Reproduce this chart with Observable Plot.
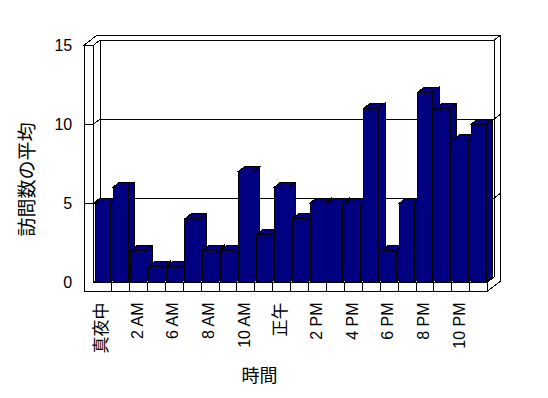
<!DOCTYPE html>
<html>
<head>
<meta charset="utf-8">
<script src="https://cdn.jsdelivr.net/npm/d3@7"></script>
<script src="https://cdn.jsdelivr.net/npm/@observablehq/plot@0.6"></script>
<style>
  html, body { margin: 0; padding: 0; background: #fff; }
  #chart svg { shape-rendering: crispEdges; }
</style>
</head>
<body>
<div id="chart"></div>
<script>
// ---- data ----
const hours = ["真夜中","1 AM","2 AM","3 AM","6 AM","7 AM","8 AM","9 AM","10 AM","11 AM","正午",
               "1 PM","2 PM","3 PM","4 PM","5 PM","6 PM","7 PM","8 PM","9 PM","10 PM","11 PM"];
const visits = [5,6,2,1,1,4,2,2,7,3,6,4,5,5,5,11,2,5,12,11,9,10];
const yTicks = [0,5,10,15];
const gridValues = [5,10];
const yTitle = "訪問数の平均";
const xTitle = "時間";

const bars = hours.map((h, i) => ({h, i, v: visits[i]}));
const xLabels = bars.filter(d => d.i % 2 === 0);
const n = hours.length;

// 3D depth (pixels)
const DX = 6.5, DY = -5, WALL = 9.5, FLOOR = 9;
const isCJK = s => /[\u3000-\u9fff]/.test(s);

function poly(g, pts, fill) {
  g.append("path")
    .attr("d", "M" + pts.map(p => p.join(",")).join("L") + "Z")
    .attr("fill", fill).attr("stroke", "black").attr("stroke-width", 1);
}
function seg(g, a, b) {
  g.append("path").attr("d", `M${a}L${b}`).attr("fill", "none")
    .attr("stroke", "black").attr("stroke-width", 1);
}

// back / side walls, floor
function boxMark(index, scales) {
  const X = scales.x, Y = scales.y;
  const x0 = X(0), x1 = X(n), y0 = Y(0), yT = Y(15);
  const g = d3.create("svg:g");
  poly(g, [[x0+DX, yT+DY],[x1+DX, yT+DY],[x1+DX, y0+DY],[x0+DX, y0+DY]], "white");
  for (const v of gridValues) seg(g, [x0+DX, Y(v)+DY], [x1+DX, Y(v)+DY]);
  poly(g, [[x0, y0],[x0+DX, y0+DY],[x1+DX, y0+DY],[x1, y0]], "white");
  poly(g, [[x0, yT],[x0+DX, yT+DY],[x0+DX, y0+DY],[x0, y0]], "white");
  for (const v of gridValues) seg(g, [x0, Y(v)], [x0+DX, Y(v)+DY]);
  poly(g, [[x0-WALL, yT],[x0-WALL+2*DX, yT+2*DY],[x1+2*DX, yT+2*DY],[x1+DX, yT+DY],[x0+DX, yT+DY],[x0, yT]], "white");
  poly(g, [[x1, y0],[x1+DX, y0+DY],[x1+DX, yT+DY],[x1+2*DX, yT+2*DY],[x1+2*DX, y0+FLOOR+2*DY],[x1, y0+FLOOR]], "white");
  for (const v of gridValues) seg(g, [x1+DX, Y(v)+DY], [x1+2*DX, Y(v)+2*DY]);
  poly(g, [[x0-WALL, yT],[x0, yT],[x0, y0],[x1, y0],[x1, y0+FLOOR],[x0-WALL, y0+FLOOR]], "white");
  for (const v of gridValues) seg(g, [x0-WALL, Y(v)], [x0, Y(v)]);
  for (let i = 1; i < n; i++) seg(g, [X(i), y0], [X(i), y0+FLOOR]);
  return g.node();
}

// bar sides and tops
function barDepthMark(index, scales) {
  const X = scales.x, Y = scales.y;
  const g = d3.create("svg:g");
  for (const d of bars) {
    const xl = X(d.i + 0.08), xr = X(d.i + 0.92), yt = Y(d.v), yb = Y(0);
    poly(g, [[xr, yb],[xr+DX, yb+DY],[xr+DX, yt+DY],[xr, yt]], "#000080");
    poly(g, [[xl, yt],[xl+DX, yt+DY],[xr+DX, yt+DY],[xr, yt]], "#000080");
  }
  return g.node();
}

const chart = Plot.plot({
  width: 548,
  height: 398,
  marginLeft: 93.7,
  marginRight: 60.3,
  marginTop: 45,
  marginBottom: 116,
  x: {domain: [0, n], axis: null},
  y: {domain: [0, 15], axis: null},
  style: {fontFamily: "'Liberation Sans', 'Noto Sans CJK JP', sans-serif", background: "white", overflow: "visible"},
  marks: [
    boxMark,
    barDepthMark,
    Plot.rectY(bars, {x1: d => d.i + 0.08, x2: d => d.i + 0.92, y1: 0, y2: "v", fill: "#000080", stroke: "black", strokeWidth: 1}),
    Plot.text(yTicks, {x: 0, y: d => d, text: d => String(d), textAnchor: "end", dx: -22, fontSize: 16, fill: "black"}),
    Plot.text(xLabels, {x: d => d.i + 0.5, y: 0, text: "h", rotate: -90, textAnchor: "end", lineAnchor: "middle", dy: 20, dx: -1.5,
      fontSize: d => isCJK(d.h) ? 17 : 16, fill: "black"}),
    Plot.text([yTitle], {frameAnchor: "left", text: d => d, rotate: -90, textAnchor: "middle", lineAnchor: "middle",
      dx: -66.7, dy: 15.5, fontSize: 19, fill: "black"}),
    Plot.text([xTitle], {frameAnchor: "bottom", text: d => d, textAnchor: "middle", lineAnchor: "middle",
      dx: -31.7, dy: 93.5, fontSize: 18, fill: "black"})
  ]
});
document.getElementById("chart").appendChild(chart);
</script>
</body>
</html>
